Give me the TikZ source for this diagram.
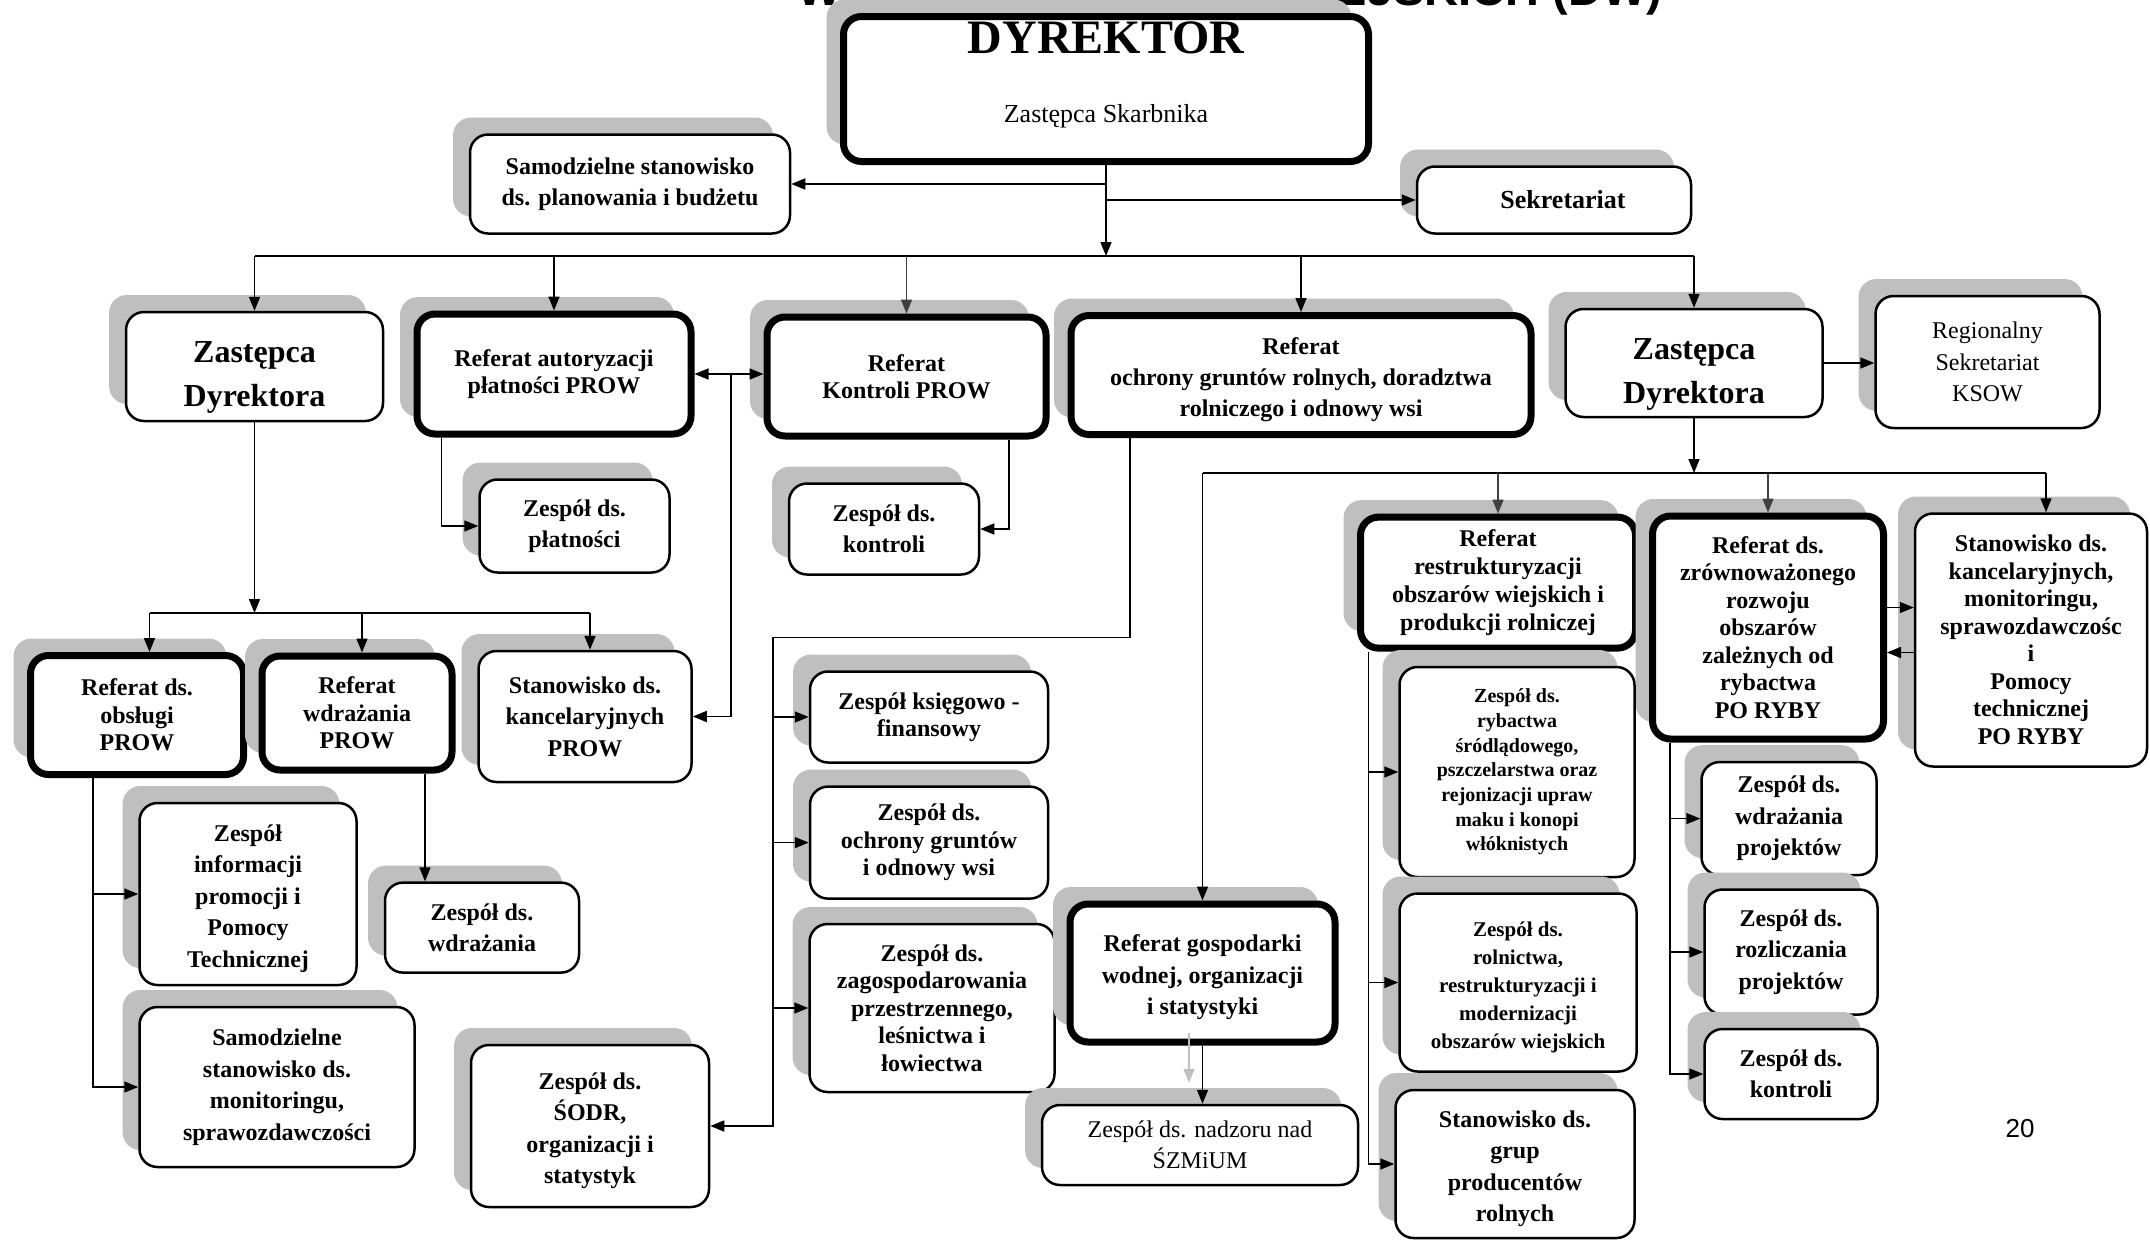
\documentclass[tikz,border=0pt]{standalone}
\usepackage{fontspec}
\setmainfont{Liberation Serif}
\setsansfont{Liberation Sans}
\usetikzlibrary{arrows.meta,shadows}
\definecolor{shadowgray}{HTML}{BFBFBF}
\definecolor{darkarrow}{HTML}{404040}

\tikzset{
  orgbox/.style={draw, fill=white, rounded corners=18pt, line width=2.5pt, align=center, inner sep=2pt,
    general shadow={fill=shadowgray, shadow xshift=-17pt, shadow yshift=17pt},
    font=\bfseries\fontsize{24}{31.5}\selectfont},
  refbox/.style={orgbox, line width=7pt},
  deputybox/.style={orgbox, font=\bfseries\fontsize{32}{44}\selectfont},
  tighttext/.style={font=\bfseries\fontsize{24}{27.5}\selectfont},
  lighttext/.style={font=\fontsize{24}{31.5}\selectfont},
  link/.style={line width=1.6pt, -{Triangle[length=14pt,width=11pt]}},
  twoway/.style={line width=1.6pt, {Triangle[length=14pt,width=11pt]}-{Triangle[length=14pt,width=11pt]}},
  bus/.style={line width=1.6pt},
}

\begin{document}
\begin{tikzpicture}[x=1pt,y=-1pt]
\useasboundingbox (0,0) rectangle (2150,1240);

% naglowek i dyrekcja
\draw (1230,5) node[anchor=base, font=\sffamily\bfseries\fontsize{47}{47}\selectfont] (title) {WYDZIAŁ TERENÓW WIEJSKICH (DW)};
\draw (1106,89) node[refbox, minimum width=525pt, minimum height=145pt] (dyr) {};
\draw (1106,38) node[font=\bfseries\fontsize{48}{48}\selectfont] (dyrname) {DYREKTOR};
\draw (1106,116) node[font=\fontsize{26}{26}\selectfont] (dyrsub) {Zastępca Skarbnika};
\draw (630,184) node[orgbox, minimum width=320pt, minimum height=99pt] (plan) {Samodzielne stanowisko\\ ds. planowania i budżetu};
\draw (1554,200) node[orgbox, font=\bfseries\fontsize{26}{30}\selectfont, minimum width=274pt, minimum height=67pt] (sekr) {\hspace*{18pt}Sekretariat};

% drugi poziom
\draw (254.5,366.5) node[deputybox, minimum width=257pt, minimum height=109pt] (zcaL) {\rule{0pt}{43pt}Zastępca\\ Dyrektora};
\draw (554,374) node[refbox, tighttext, minimum width=274pt, minimum height=120pt] (autor) {Referat autoryzacji\\ płatności PROW};
\draw (906.5,376.5) node[refbox, tighttext, minimum width=279pt, minimum height=119pt] (kontr) {Referat\\ Kontroli PROW};
\draw (1301,375) node[refbox, font=\bfseries\fontsize{24}{31}\selectfont, minimum width=460pt, minimum height=119pt] (ochr) {\rule{0pt}{26pt}Referat\\ ochrony gruntów rolnych, doradztwa\\ rolniczego i odnowy wsi};
\draw (1694,363) node[deputybox, minimum width=257pt, minimum height=108pt] (zcaR) {\rule{0pt}{43pt}Zastępca\\ Dyrektora};
\draw (1987.5,362) node[orgbox, lighttext, minimum width=224pt, minimum height=132pt] (ksow) {Regionalny\\ Sekretariat\\ KSOW};
\draw (574.5,526) node[orgbox, minimum width=190pt, minimum height=93pt] (zplat) {Zespół ds.\\ płatności};
\draw (884,529) node[orgbox, minimum width=190pt, minimum height=91pt] (zkontr) {Zespół ds.\\ kontroli};

% pion PROW
\draw (137,715) node[refbox, tighttext, minimum width=213pt, minimum height=119pt] (obsl) {Referat ds.\\ obsługi\\ PROW};
\draw (357,713) node[refbox, tighttext, minimum width=190pt, minimum height=114pt] (wdr) {Referat\\ wdrażania\\ PROW};
\draw (585,716.5) node[orgbox, minimum width=213pt, minimum height=131pt] (kancP) {Stanowisko ds.\\ kancelaryjnych\\ PROW};
\draw (248,894) node[orgbox, minimum width=217pt, minimum height=182pt] (info) {\rule{0pt}{26pt}Zespół\\ informacji\\ promocji i\\ Pomocy\\ Technicznej};
\draw (277,1087) node[orgbox, minimum width=275pt, minimum height=160pt] (monit) {Samodzielne\\ stanowisko ds.\\ monitoringu,\\ sprawozdawczości};
\draw (482,927.6) node[orgbox, minimum width=194pt, minimum height=90pt] (zwdr) {Zespół ds.\\ wdrażania};
\draw (590,1126) node[orgbox, minimum width=238pt, minimum height=162pt] (sodr) {\rule{0pt}{26pt}Zespół ds.\\ ŚODR,\\ organizacji i\\ statystyk};

% pion ochrony gruntow
\draw (929,717) node[orgbox, tighttext, minimum width=238pt, minimum height=91pt] (ksieg) {Zespół księgowo -\\ finansowy};
\draw (929,842.6) node[orgbox, tighttext, minimum width=238pt, minimum height=112pt] (grunt) {Zespół ds.\\ ochrony gruntów\\ i odnowy wsi};
\draw (932,1008) node[orgbox, tighttext, minimum width=245pt, minimum height=168pt] (zagosp) {Zespół ds.\\ zagospodarowania\\ przestrzennego,\\ leśnictwa i\\ łowiectwa};
\draw (1202.5,973) node[refbox, minimum width=265pt, minimum height=138pt] (wodna) {\rule{0pt}{26pt}Referat gospodarki\\ wodnej, organizacji\\ i statystyki};
\draw (1200,1145) node[orgbox, lighttext, minimum width=316pt, minimum height=80pt] (nadzor) {Zespół ds. nadzoru nad\\ ŚZMiUM};

% pion PO RYBY
\draw (1498,582.6) node[refbox, font=\bfseries\fontsize{24}{28}\selectfont, minimum width=275pt, minimum height=131pt] (restr) {Referat\\ restrukturyzacji\\ obszarów wiejskich i\\ produkcji rolniczej};
\draw (1768,627.5) node[refbox, tighttext, minimum width=231pt, minimum height=223pt] (ryby) {Referat ds.\\ zrównoważonego\\ rozwoju\\ obszarów\\ zależnych od\\ rybactwa\\ PO RYBY};
\draw (2031,640) node[orgbox, tighttext, minimum width=232pt, minimum height=253pt] (kancR) {Stanowisko ds.\\ kancelaryjnych,\\ monitoringu,\\ sprawozdawczośc\\ i\\ Pomocy\\ technicznej\\ PO RYBY};
\draw (1517,772) node[orgbox, font=\bfseries\fontsize{20}{24.7}\selectfont, minimum width=235pt, minimum height=210pt] (rybact) {Zespół ds.\\ rybactwa\\ śródlądowego,\\ pszczelarstwa oraz\\ rejonizacji upraw\\ maku i konopi\\ włóknistych};
\draw (1518,982.5) node[orgbox, font=\bfseries\fontsize{21}{28}\selectfont, minimum width=237pt, minimum height=178pt] (roln) {\rule{0pt}{24pt}Zespół ds.\\ rolnictwa,\\ restrukturyzacji i\\ modernizacji\\ obszarów wiejskich};
\draw (1515,1164) node[orgbox, minimum width=239pt, minimum height=148pt] (grupy) {\rule{0pt}{26pt}Stanowisko ds.\\ grup\\ producentów\\ rolnych};
\draw (1789,818.6) node[orgbox, minimum width=175pt, minimum height=113pt] (wdrproj) {Zespół ds.\\ wdrażania\\ projektów};
\draw (1791,952) node[orgbox, minimum width=173pt, minimum height=125pt] (rozl) {Zespół ds.\\ rozliczania\\ projektów};
\draw (1791,1074) node[orgbox, minimum width=173pt, minimum height=90pt] (kontrR) {Zespół ds.\\ kontroli};
\draw (2020,1128.5) node[font=\sffamily\fontsize{26}{26}\selectfont] (page) {20};

% polaczenia od dyrektora
\coordinate (busT) at (1106,256);
\draw[link] (dyr.south) -- (dyr.south |- busT);
\draw[link] (dyr.south |- plan.east) -- (plan.east);
\draw[link] (dyr.south |- sekr.west) -- (sekr.west);
\draw[bus] (zcaL.north |- busT) -- (zcaR.north |- busT);
\draw[link] (zcaL.north |- busT) -- (zcaL.north);
\draw[link] (autor.north |- busT) -- (autor.north);
\draw[link, darkarrow] (kontr.north |- busT) -- (kontr.north);
\draw[link] (ochr.north |- busT) -- (ochr.north);
\draw[link] (zcaR.north |- busT) -- (zcaR.north);
\draw[link] (zcaR.east) -- (zcaR.east -| ksow.west);

% PROW
\draw[twoway] (autor.east) -- (autor.east -| kontr.west);
\coordinate (vmid) at (731,374);
\draw[link] (vmid) |- (kancP.east);
\draw[link] ([xshift=-112.5pt]autor.south) |- (zplat.west);
\draw[link] ([xshift=102.5pt]kontr.south) |- (zkontr.east);
\coordinate (busL) at (250,613);
\draw[link] (zcaL.south) -- (zcaL.south |- busL);
\draw[bus] ([xshift=12.5pt]obsl.north |- busL) -- ([xshift=5pt]kancP.north |- busL);
\draw[link] ([xshift=12.5pt]obsl.north |- busL) -- ([xshift=12.5pt]obsl.north);
\draw[link] ([xshift=5pt]wdr.north |- busL) -- ([xshift=5pt]wdr.north);
\draw[link] ([xshift=5pt]kancP.north |- busL) -- ([xshift=5pt]kancP.north);
\draw[link] ([xshift=-44pt]obsl.south) |- (info.west);
\draw[link] ([xshift=-44pt]obsl.south) |- (monit.west);
\draw[link] ([xshift=68pt]wdr.south) -- ([xshift=68pt]wdr.south |- zwdr.north);

% ochrona gruntow
\coordinate (trunk) at (773,637.6);
\draw[link] ([xshift=-171pt]ochr.south) |- (trunk) |- (sodr.east);
\draw[link] (trunk |- ksieg.west) -- (ksieg.west);
\draw[link] (trunk |- grunt.west) -- (grunt.west);
\draw[link] (trunk |- zagosp.west) -- (zagosp.west);

% drugi zastepca
\coordinate (busR) at (1700,473);
\draw[link] (zcaR.south) -- (zcaR.south |- busR);
\draw[bus] (wodna.north |- busR) -- ([xshift=15pt]kancR.north |- busR);
\draw[link] (wodna.north |- busR) -- (wodna.north);
\draw[link, darkarrow] (restr.north |- busR) -- (restr.north);
\draw[link, darkarrow] (ryby.north |- busR) -- (ryby.north);
\draw[link] ([xshift=15pt]kancR.north |- busR) -- ([xshift=15pt]kancR.north);
\draw[link] ([yshift=20pt]ryby.east) -- ([yshift=20pt]ryby.east -| kancR.west);
\draw[link] ([yshift=-12.5pt]kancR.west) -- ([yshift=-12.5pt]kancR.west -| ryby.east);
\draw[link] ([xshift=-129.5pt]restr.south) |- (rybact.west);
\draw[link] ([xshift=-129.5pt]restr.south) |- (roln.west);
\draw[link] ([xshift=-129.5pt]restr.south) |- (grupy.west);
\draw[link] ([xshift=-98pt]ryby.south) |- (wdrproj.west);
\draw[link] ([xshift=-98pt]ryby.south) |- (rozl.west);
\draw[link] ([xshift=-98pt]ryby.south) |- (kontrR.west);
\draw[link] (wodna.south) -- (wodna.south |- nadzor.north);
\draw[link, shadowgray] ([xshift=-13.5pt,yshift=13pt]wodna.south) -- ([xshift=-11pt,yshift=21pt]nadzor.north);
\end{tikzpicture}
\end{document}
